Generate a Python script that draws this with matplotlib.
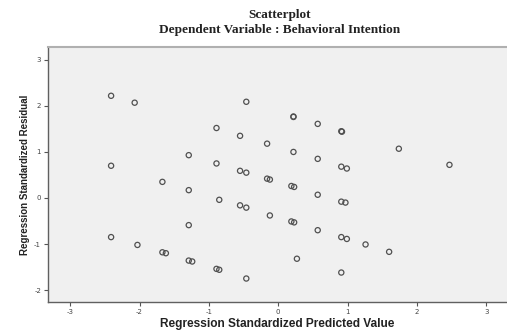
import matplotlib
matplotlib.use("Agg")
import matplotlib.pyplot as plt

plt.rcParams["axes.unicode_minus"] = False

# standardized predicted value vs standardized residual
pred = [-2.41, -2.07, -0.46, -0.89, -0.55, -0.16, -1.29, -2.41, -0.89, -0.55,
        -0.46, -0.16, -0.12, -1.67, -1.29, 0.22, 0.22, 0.57, 0.91, 0.92,
        1.74, 0.22, 0.57, 2.47, 0.91, 0.99, 0.19, 0.23, -0.85, -0.55,
        -0.46, -0.12, -1.29, -2.41, -2.03, -1.67, -1.62, -1.29, -1.24, -0.89,
        -0.85, -0.46, 0.57, 0.91, 0.97, 0.19, 0.23, 0.57, 0.91, 0.99,
        1.26, 1.60, 0.27, 0.91]
resid = [2.22, 2.07, 2.09, 1.52, 1.35, 1.18, 0.93, 0.70, 0.75, 0.59,
         0.55, 0.42, 0.40, 0.35, 0.17, 1.77, 1.76, 1.61, 1.45, 1.44,
         1.07, 1.00, 0.85, 0.72, 0.68, 0.64, 0.26, 0.24, -0.04, -0.16,
         -0.21, -0.38, -0.59, -0.85, -1.02, -1.18, -1.20, -1.36, -1.38, -1.54,
         -1.56, -1.75, 0.07, -0.08, -0.10, -0.51, -0.53, -0.70, -0.85, -0.89,
         -1.01, -1.17, -1.32, -1.62]
ticks = [-3, -2, -1, 0, 1, 2, 3]
yticks = [-2, -1, 0, 1, 2, 3]

fig = plt.figure(figsize=(5.07, 3.36), dpi=100)
ax = fig.add_axes([48 / 507, 34 / 336, 459 / 507, 255 / 336])
ax.set_facecolor("#f0f0f0")

ax.scatter(pred, resid, s=14, facecolors="none", edgecolors="#505050", linewidths=0.9)

ax.set_xlim(-3.32, 3.30)
ax.set_ylim(-2.26, 3.28)
ax.set_xticks(ticks)
ax.set_yticks(yticks)
ax.tick_params(length=3, width=0.8, color="#555555", labelsize=5, labelcolor="#444444", pad=2)

for side in ("left", "bottom"):
    ax.spines[side].set_color("#606060")
    ax.spines[side].set_linewidth(1.0)
ax.spines["top"].set_color("#b0b0b0")
ax.spines["top"].set_linewidth(1.5)
ax.spines["right"].set_visible(False)

ax.set_xlabel("Regression Standardized Predicted Value", fontsize=8.6,
              fontweight="bold", family="Liberation Sans", color="#222222", labelpad=2)
ax.set_ylabel("Regression Standardized Residual", fontsize=7.0,
              fontweight="bold", family="Liberation Sans", color="#222222", labelpad=3)

fig.text(280 / 507, 1 - 15 / 336, "Scatterplot", ha="center", va="center",
         fontsize=9.5, fontweight="bold", family="Liberation Serif", color="#222222")
fig.text(280 / 507, 1 - 30 / 336, "Dependent Variable : Behavioral Intention",
         ha="center", va="center", fontsize=9.5, fontweight="bold",
         family="Liberation Serif", color="#222222")

fig.savefig("out.png", dpi=100, facecolor="white")
